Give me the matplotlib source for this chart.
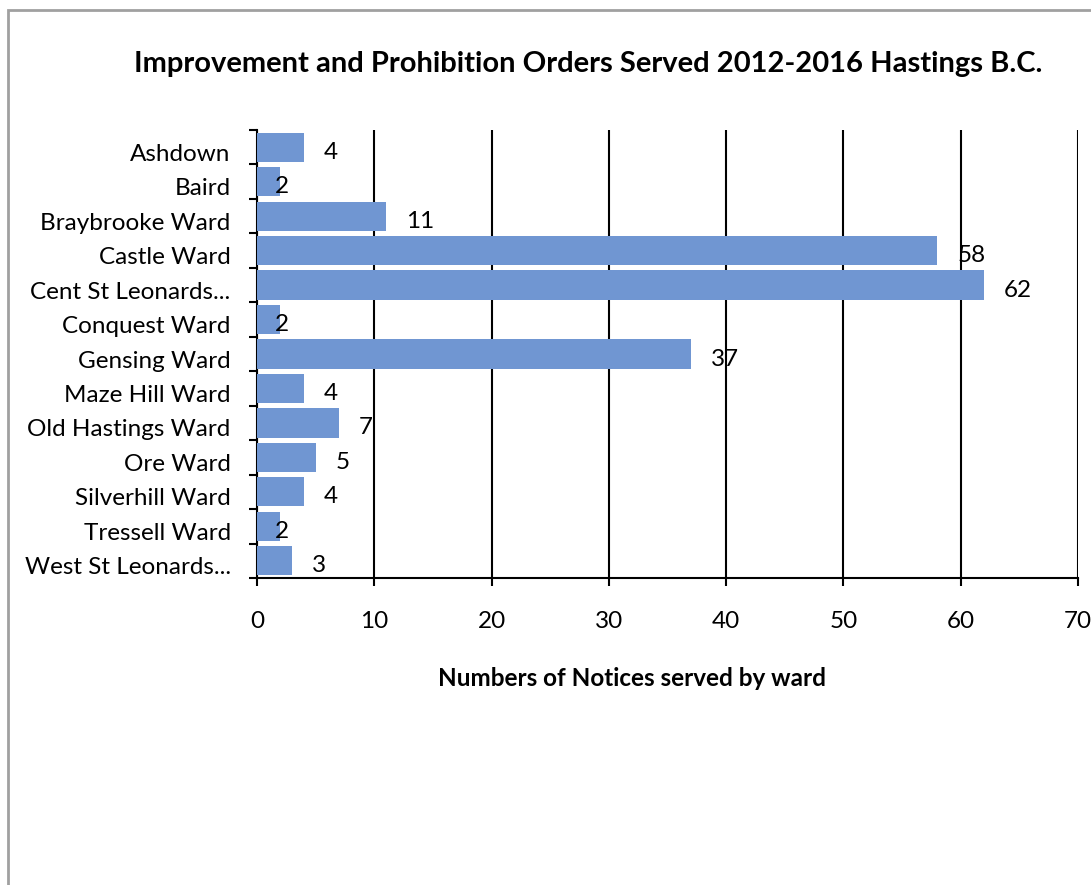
import matplotlib
matplotlib.use("Agg")
import matplotlib.pyplot as plt
import matplotlib.transforms as mtransforms
import numpy as np
from matplotlib.patches import Rectangle

wards = ['Ashdown', 'Baird', 'Braybrooke Ward', 'Castle Ward', 'Cent St Leonards...',
         'Conquest Ward', 'Gensing Ward', 'Maze Hill Ward', 'Old Hastings Ward',
         'Ore Ward', 'Silverhill Ward', 'Tressell Ward', 'West St Leonards...']
notices = [4, 2, 11, 58, 62, 2, 37, 4, 7, 5, 4, 2, 3]
x_ticks = [0, 10, 20, 30, 40, 50, 60, 70]

plt.rcParams['font.family'] = ['Lato', 'DejaVu Sans']
FS = 17.5

fig = plt.figure(figsize=(10.91, 8.85), dpi=100)
ax = fig.add_axes([0.2356, 0.3469, 0.9881 - 0.2356, 0.8531 - 0.3469])

# grey frame of the embedded chart (cut off at right and bottom)
fig.patches.append(Rectangle((8 / 1091, -0.05), 1.2, 1 - 10 / 885 + 0.05,
                             transform=fig.transFigure, fill=False,
                             edgecolor='#a0a0a0', linewidth=2))

y = np.arange(len(wards))
ax.barh(y, notices, height=0.85, color='#7096D2', zorder=3)

for yi, v in zip(y, notices):
    if v <= 2:
        ax.annotate(str(v), (v, yi), xytext=(1, -5), textcoords='offset pixels',
                    ha='center', va='center', fontsize=FS, zorder=4)
    else:
        ax.annotate(str(v), (v, yi), xytext=(20, -5), textcoords='offset pixels',
                    ha='left', va='center', fontsize=FS, zorder=4)

ax.set_xlim(0, 70)
ax.set_ylim(len(wards) - 0.5, -0.5)
ax.set_xticks(x_ticks)
ax.set_yticks(y)
ax.set_yticklabels(wards)
ax.set_yticks(np.arange(len(wards) + 1) - 0.5, minor=True)
ax.tick_params(axis='y', which='major', length=0, pad=19, labelsize=FS)
ax.tick_params(axis='y', which='minor', length=6, width=1.5, direction='out')
ax.tick_params(axis='x', which='major', length=6, width=1.5, direction='out',
               pad=18, labelsize=FS)

# nudge category labels down a little, like the original
shift = mtransforms.ScaledTranslation(0, -5 / 100, fig.dpi_scale_trans)
for lbl in ax.get_yticklabels():
    lbl.set_transform(lbl.get_transform() + shift)

ax.grid(axis='x', color='black', linewidth=1.5, zorder=0)
for s in ['top', 'right']:
    ax.spines[s].set_visible(False)
ax.spines['left'].set_linewidth(1.5)
ax.spines['bottom'].set_linewidth(1.5)

fig.text(632 / 1091, 1 - 678 / 885, 'Numbers of Notices served by ward',
         ha='center', va='center', fontsize=FS, fontweight='bold')
fig.text(588 / 1091, 1 - 64 / 885, 'Improvement and Prohibition Orders Served 2012-2016 Hastings B.C.',
         ha='center', va='center', fontsize=21, fontweight='bold')

fig.savefig('out.png', dpi=100)
